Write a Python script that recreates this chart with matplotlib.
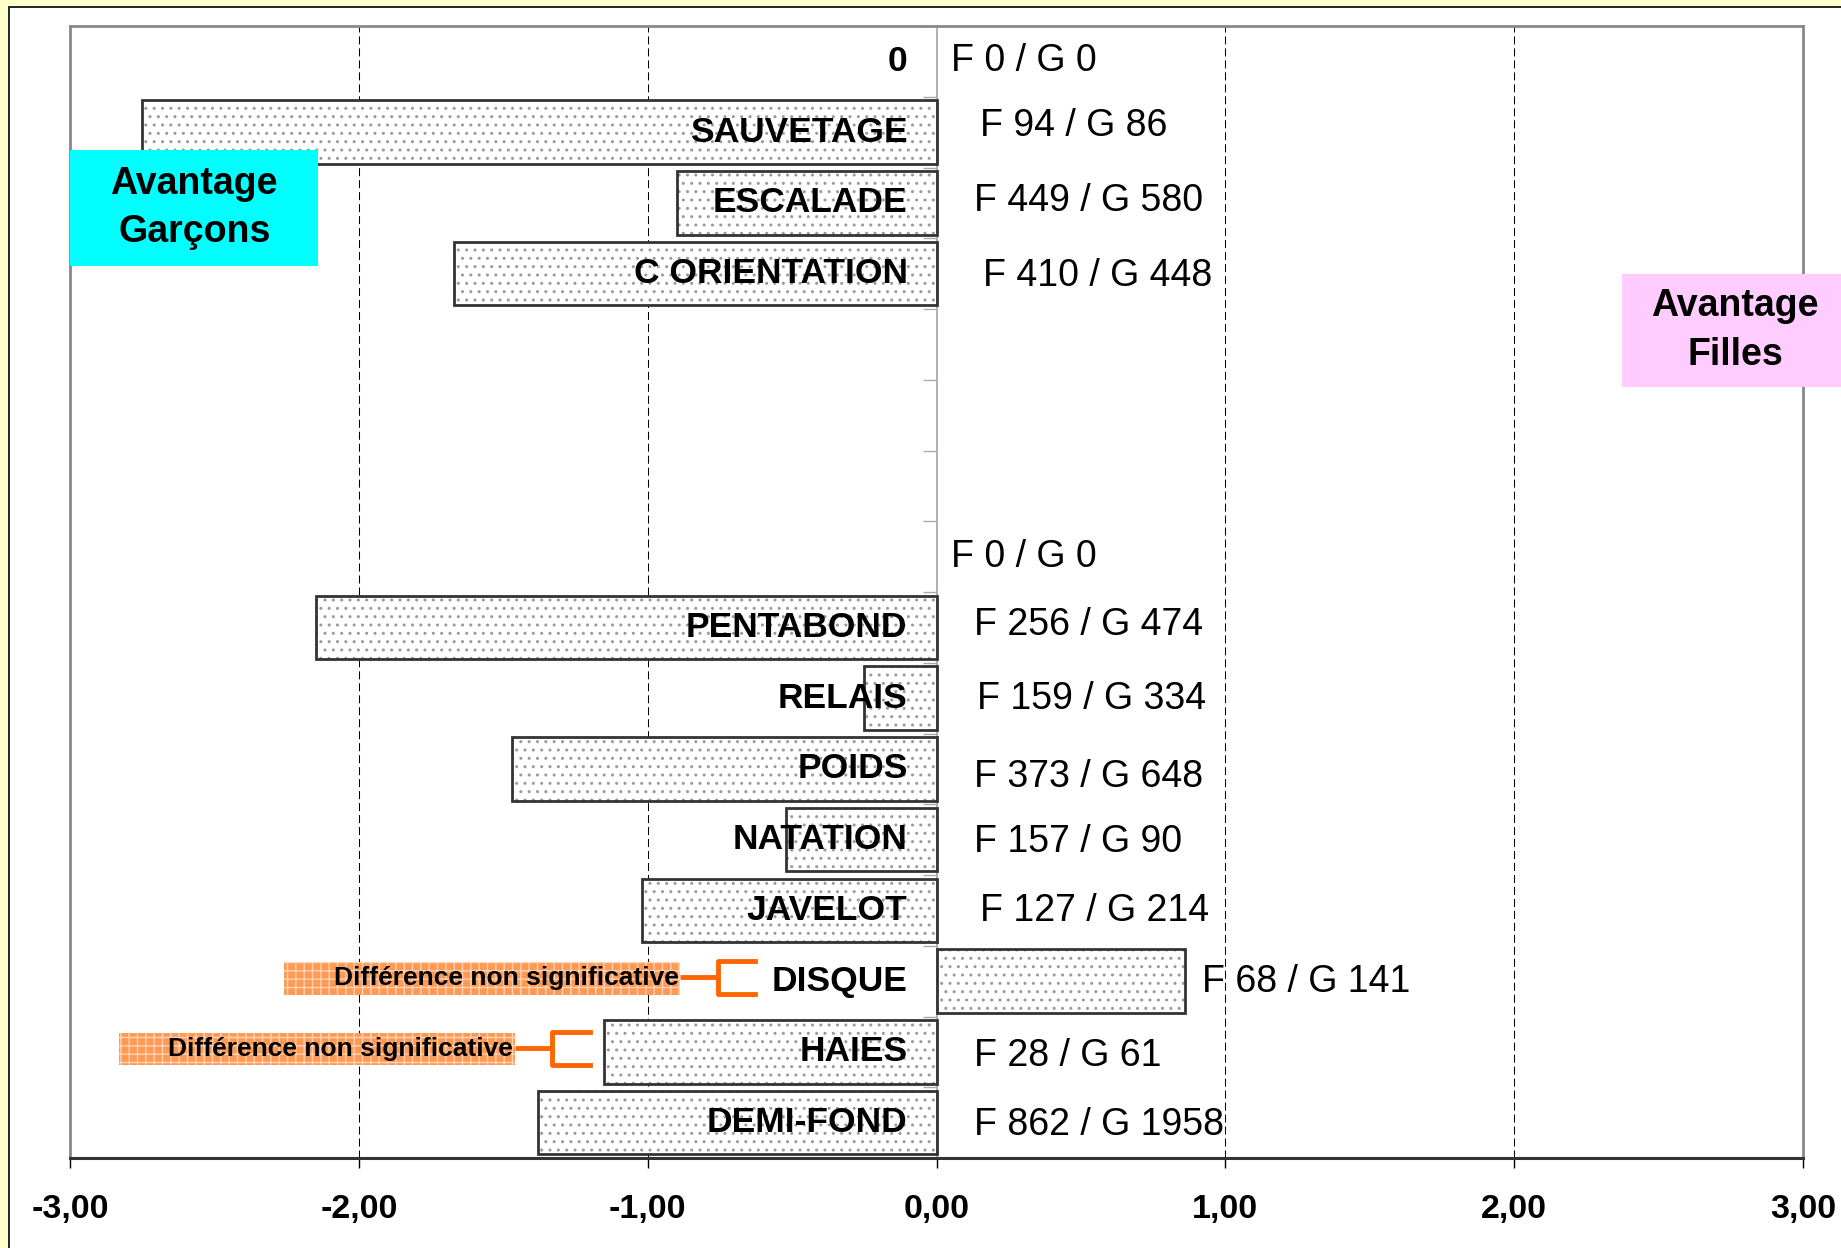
import numpy as np
import matplotlib.pyplot as plt
from matplotlib.patches import Rectangle

plt.rcParams['font.family'] = ['Liberation Sans', 'DejaVu Sans']
plt.rcParams['hatch.linewidth'] = 1.0

# rows from top to bottom (empty strings = spacer rows)
categories = ["0", "SAUVETAGE", "ESCALADE", "C ORIENTATION", "", "", "", "",
              "PENTABOND", "RELAIS", "POIDS", "NATATION", "JAVELOT",
              "DISQUE", "HAIES", "DEMI-FOND"]
ecarts = [0, -2.75, -0.90, -1.67, np.nan, np.nan, np.nan, 0,
          -2.15, -0.25, -1.47, -0.52, -1.02, 0.86, -1.15, -1.38]
filles = [0, 94, 449, 410, None, None, None, 0,
          256, 159, 373, 157, 127, 68, 28, 862]
garcons = [0, 86, 580, 448, None, None, None, 0,
           474, 334, 648, 90, 214, 141, 61, 1958]
non_signif = ["DISQUE", "HAIES"]

x_ticks = [-3, -2, -1, 0, 1, 2, 3]
x_tick_labels = ["-3,00", "-2,00", "-1,00", "0,00", "1,00", "2,00", "3,00"]

# hand placement of the "F / G" text boxes (as in the original sheet)
count_x = [0.05, 0.15, 0.13, 0.16, 0, 0, 0, 0.05,
           0.13, 0.14, 0.13, 0.13, 0.15, 0.92, 0.13, 0.13]
count_dy = [0.0, -0.09, -0.02, 0.03, 0, 0, 0, 0.0,
            -0.04, 0.01, 0.11, 0.03, 0.01, 0.01, 0.06, 0.03]
ns_right = [-0.888, -1.46]

W, H = 1841, 1248
fig = plt.figure(figsize=(W / 100, H / 100), dpi=100, facecolor="#FFFFCC")
fig.patches.append(Rectangle((9 / W, -0.05), 1.0, 1 - 7 / H + 0.05,
                             transform=fig.transFigure, facecolor="white",
                             edgecolor="black", lw=1.2, zorder=-1))
ax = fig.add_axes([70 / W, 1 - 1158 / H, (1803 - 70) / W, (1158 - 26) / H])

rows = np.arange(len(categories))
vals = np.array(ecarts, dtype=float)
has_bar = ~np.isnan(vals) & (vals != 0)

# dotted fill, then dark outline
ax.barh(rows[has_bar], vals[has_bar], height=0.9, color="white",
        edgecolor="#9a9a9a", hatch="..", lw=0, zorder=2)
ax.barh(rows[has_bar], vals[has_bar], height=0.9, fill=False,
        edgecolor="#333333", lw=2, zorder=3)

for x in [-2, -1, 1, 2]:
    ax.axvline(x, color="black", lw=0.75, ls=(0, (7.7, 3.8)), zorder=1)

for i, name in enumerate(categories):
    if name:
        ax.text(-0.1, i, name, ha="right", va="center", fontsize=25.5,
                fontweight="bold", zorder=5)

for i, (f, g) in enumerate(zip(filles, garcons)):
    if f is None:
        continue
    ax.text(count_x[i], i + count_dy[i], f"F {f} / G {g}", ha="left",
            va="center", fontsize=27, zorder=5)

# "Différence non significative" call-outs
for name, xr in zip(non_signif, ns_right):
    i = categories.index(name)
    ax.add_patch(Rectangle((xr - 1.37, i - 0.27), 1.37, 0.46,
                           facecolor="#FF9A55", edgecolor="#FFD2B4",
                           hatch="++", lw=0, zorder=4))
    ax.text(xr - 0.005, i - 0.04, "Différence non significative", ha="right",
            va="center", fontsize=19, fontweight="bold", zorder=5)
    vx = xr + 0.13
    ax.plot([xr, vx], [i - 0.06, i - 0.06], color="#FF6600", lw=3.5,
            solid_capstyle="butt", zorder=5)
    ax.plot([vx + 0.13, vx, vx, vx + 0.13],
            [i - 0.28, i - 0.28, i + 0.18, i + 0.18], color="#FF6600",
            lw=3.5, solid_joinstyle="round", zorder=5)

# side legends
ax.add_patch(Rectangle((-3, 1.25), 0.86, 1.64, facecolor="#00FFFF", lw=0,
                       zorder=6, clip_on=False))
ax.text(-2.57, 2.07, "Avantage\nGarçons", ha="center", va="center",
        fontsize=27, fontweight="bold", linespacing=1.45, zorder=7)
ax.add_patch(Rectangle((2.374, 3.005), 0.8, 1.6, facecolor="#FFCCFF", lw=0,
                       zorder=6, clip_on=False))
ax.text(2.765, 3.8, "Avantage\nFilles", ha="center", va="center",
        fontsize=27, fontweight="bold", linespacing=1.45, zorder=7,
        clip_on=False)

ax.set_xlim(-3, 3)
ax.set_ylim(15.5, -0.5)

# frame
ax.spines["left"].set_position(("data", 0))
ax.spines["left"].set_color("#aaaaaa")
ax.spines["left"].set_linewidth(1.3)
for s in ["top", "right"]:
    ax.spines[s].set_color("#888888")
    ax.spines[s].set_linewidth(2)
ax.spines["bottom"].set_color("#333333")
ax.spines["bottom"].set_linewidth(2.2)
ax.axvline(-3, color="#888888", lw=2, zorder=2.5, clip_on=False)

ax.set_yticks(np.arange(-0.5, 16, 1))
ax.tick_params(axis="y", direction="out", length=10, width=1,
               color="#aaaaaa", labelleft=False)
ax.set_xticks(x_ticks, x_tick_labels, fontsize=24.5, fontweight="bold")
ax.tick_params(axis="x", direction="out", length=7, width=1, pad=19)

fig.savefig("out.png", dpi=100, facecolor=fig.get_facecolor())
